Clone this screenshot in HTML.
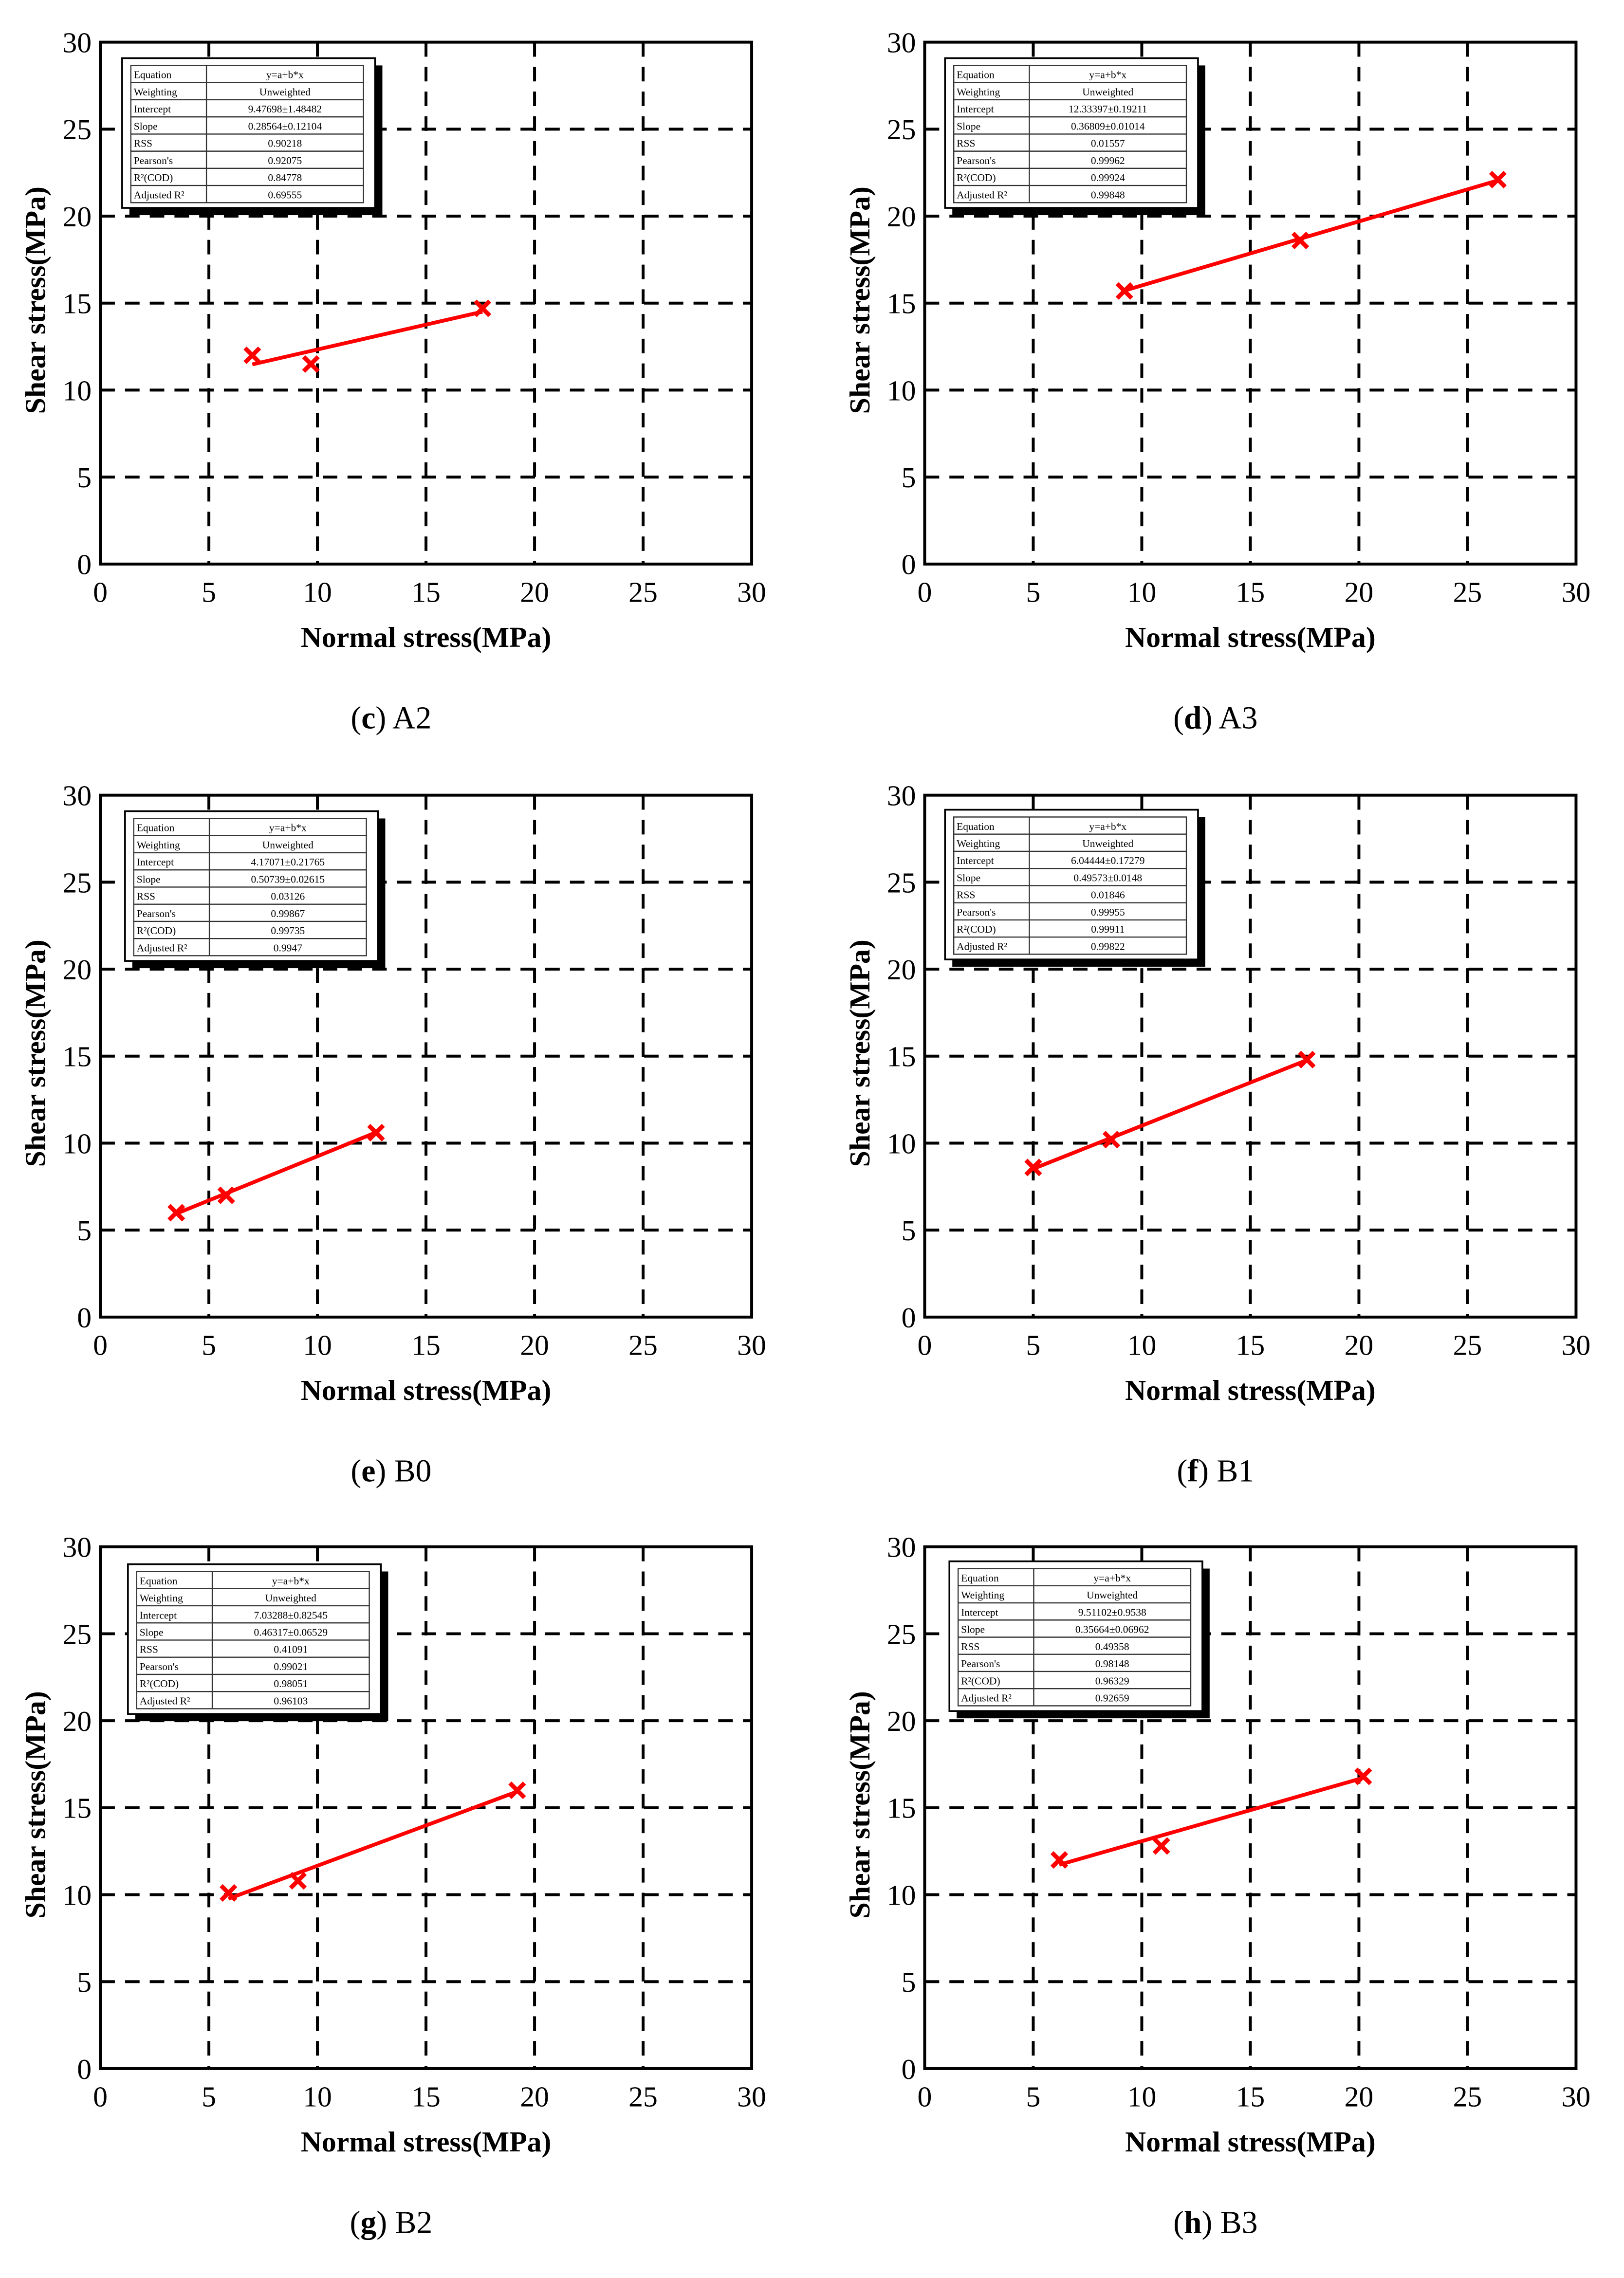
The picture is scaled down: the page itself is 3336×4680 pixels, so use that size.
<!DOCTYPE html>
<html><head><meta charset="utf-8">
<style>
html,body{margin:0;padding:0;background:#fff;}
svg{display:block;}
</style></head>
<body>
<svg id="fig" xmlns="http://www.w3.org/2000/svg" width="3336" height="4680" viewBox="0 0 1117 1567"></svg>
<script>
const panelIds = ["c","d","e","f","g","h"];
const panelNames = ["A2","A3","B0","B1","B2","B3"];
const xTicks = [0,5,10,15,20,25,30];
const yTicks = [0,5,10,15,20,25,30];
const ptsX = [[7,9.7,17.6],[9.2,17.3,26.4],[3.5,5.8,12.7],[5,8.6,17.6],[5.9,9.1,19.2],[6.2,10.9,20.2]];
const ptsY = [[12,11.5,14.7],[15.7,18.6,22.1],[6.0,7.0,10.6],[8.6,10.2,14.8],[10.1,10.8,16.0],[12.0,12.8,16.8]];
const fitA = [9.47698,12.33397,4.17071,6.04444,7.03288,9.51102];
const fitB = [0.28564,0.36809,0.50739,0.49573,0.46317,0.35664];
const rowLabels = ["Equation","Weighting","Intercept","Slope","RSS","Pearson's","R²(COD)","Adjusted R²"];
const interceptTxt = ["9.47698±1.48482","12.33397±0.19211","4.17071±0.21765","6.04444±0.17279","7.03288±0.82545","9.51102±0.9538"];
const slopeTxt = ["0.28564±0.12104","0.36809±0.01014","0.50739±0.02615","0.49573±0.0148","0.46317±0.06529","0.35664±0.06962"];
const rssTxt = ["0.90218","0.01557","0.03126","0.01846","0.41091","0.49358"];
const pearsonTxt = ["0.92075","0.99962","0.99867","0.99955","0.99021","0.98148"];
const r2Txt = ["0.84778","0.99924","0.99735","0.99911","0.98051","0.96329"];
const adjTxt = ["0.69555","0.99848","0.9947","0.99822","0.96103","0.92659"];

const NS = "http://www.w3.org/2000/svg";
const svg = document.getElementById("fig");
function mk(tag, attrs, parent){
  const e = document.createElementNS(NS, tag);
  for (const k in attrs) e.setAttribute(k, attrs[k]);
  parent.appendChild(e);
  return e;
}
const colL = [69, 636];
const rowT = [29, 547, 1064];
const PW = 448, PH = 359;
const legPos = [[84,40],[650,40],[86,558],[650,557],[88,1076],[653,1074]];

panelIds.forEach((pid, i) => {
  const L = colL[i%2], T = rowT[Math.floor(i/2)], R = L+PW, B = T+PH;
  const sx = v => L + v/30*PW;
  const sy = v => B - v/30*PH;
  const g = mk("g", {}, svg);
  
  
  for (let k=1;k<6;k++){
    const gx = mk("line",{x1:sx(xTicks[k]),x2:sx(xTicks[k]),y1:T,y2:B,stroke:"#000","stroke-width":2,"stroke-dasharray":"10 7"},g);
    
    
    const gy = mk("line",{x1:L,x2:R,y1:sy(yTicks[k]),y2:sy(yTicks[k]),stroke:"#000","stroke-width":2,"stroke-dasharray":"10 7"},g);
    
    
  }
  const box = mk("rect",{x:L,y:T,width:PW,height:PH,fill:"none",stroke:"#000","stroke-width":2},g);
  
  
  xTicks.forEach(v => {
    const t = mk("text",{x:sx(v),y:B+26,"text-anchor":"middle","font-family":"Liberation Serif, serif","font-size":20},g);
    t.textContent = v;
    
    
  });
  yTicks.forEach(v => {
    const t = mk("text",{x:L-6,y:sy(v)+7,"text-anchor":"end","font-family":"Liberation Serif, serif","font-size":20},g);
    t.textContent = v;
    
    
  });
  const xt = mk("text",{x:L+PW/2,y:B+57,"text-anchor":"middle","font-family":"Liberation Serif, serif","font-size":20,"font-weight":"bold"},g);
  xt.textContent = "Normal stress(MPa)";
  
  
  const yt = mk("text",{x:0,y:0,"text-anchor":"middle","font-family":"Liberation Serif, serif","font-size":20,"font-weight":"bold",transform:`translate(${L-38},${T+PH/2-2}) rotate(-90)`},g);
  yt.textContent = "Shear stress(MPa)";
  
  
  const cap = mk("text",{x:L+PW/2-24,y:B+113,"text-anchor":"middle","font-family":"Liberation Serif, serif","font-size":22},g);
  cap.innerHTML = `(<tspan font-weight="bold">${pid}</tspan>) ${panelNames[i]}`;
  
  
  const [lx, ly] = legPos[i];
  const lw = 174, lh = 103;
  const sh = mk("rect",{x:lx+5,y:ly+5,width:lw,height:lh,fill:"#000"},g);
  
  
  const lb = mk("rect",{x:lx,y:ly,width:lw,height:lh,fill:"#fff",stroke:"#000","stroke-width":1.2},g);
  
  
  const tx = lx+6, ty = ly+5, tw = lw-14, rh = 11.8, c1 = 52;
  const vals = ["y=a+b*x","Unweighted",interceptTxt[i],slopeTxt[i],rssTxt[i],pearsonTxt[i],r2Txt[i],adjTxt[i]];
  mk("rect",{x:tx,y:ty,width:tw,height:rh*8,fill:"none",stroke:"#333","stroke-width":0.8},g);
  mk("line",{x1:tx+c1,x2:tx+c1,y1:ty,y2:ty+rh*8,stroke:"#333","stroke-width":0.8},g);
  for (let r=0;r<8;r++){
    if (r>0) mk("line",{x1:tx,x2:tx+tw,y1:ty+r*rh,y2:ty+r*rh,stroke:"#333","stroke-width":0.8},g);
    const a = mk("text",{x:tx+2,y:ty+r*rh+8.8,"font-family":"Liberation Serif, serif","font-size":7.2},g);
    a.textContent = rowLabels[r];
    
    
    const b = mk("text",{x:tx+c1+(tw-c1)/2,y:ty+r*rh+8.8,"text-anchor":"middle","font-family":"Liberation Serif, serif","font-size":7.2},g);
    b.textContent = vals[r];
    
    
  }
  const xs = ptsX[i];
  const x0 = Math.min(...xs), x1 = Math.max(...xs);
  const fl = mk("line",{x1:sx(x0),y1:sy(fitA[i]+fitB[i]*x0),x2:sx(x1),y2:sy(fitA[i]+fitB[i]*x1),stroke:"#f00","stroke-width":2.6},g);
  
  
  xs.forEach((xv, j) => {
    const cx = sx(xv), cy = sy(ptsY[i][j]), s = 5;
    const m = mk("path",{d:`M${cx-s},${cy-s}L${cx+s},${cy+s}M${cx-s},${cy+s}L${cx+s},${cy-s}`,stroke:"#f00","stroke-width":3,fill:"none"},g);
    
    
  });
});
</script>
</body></html>
